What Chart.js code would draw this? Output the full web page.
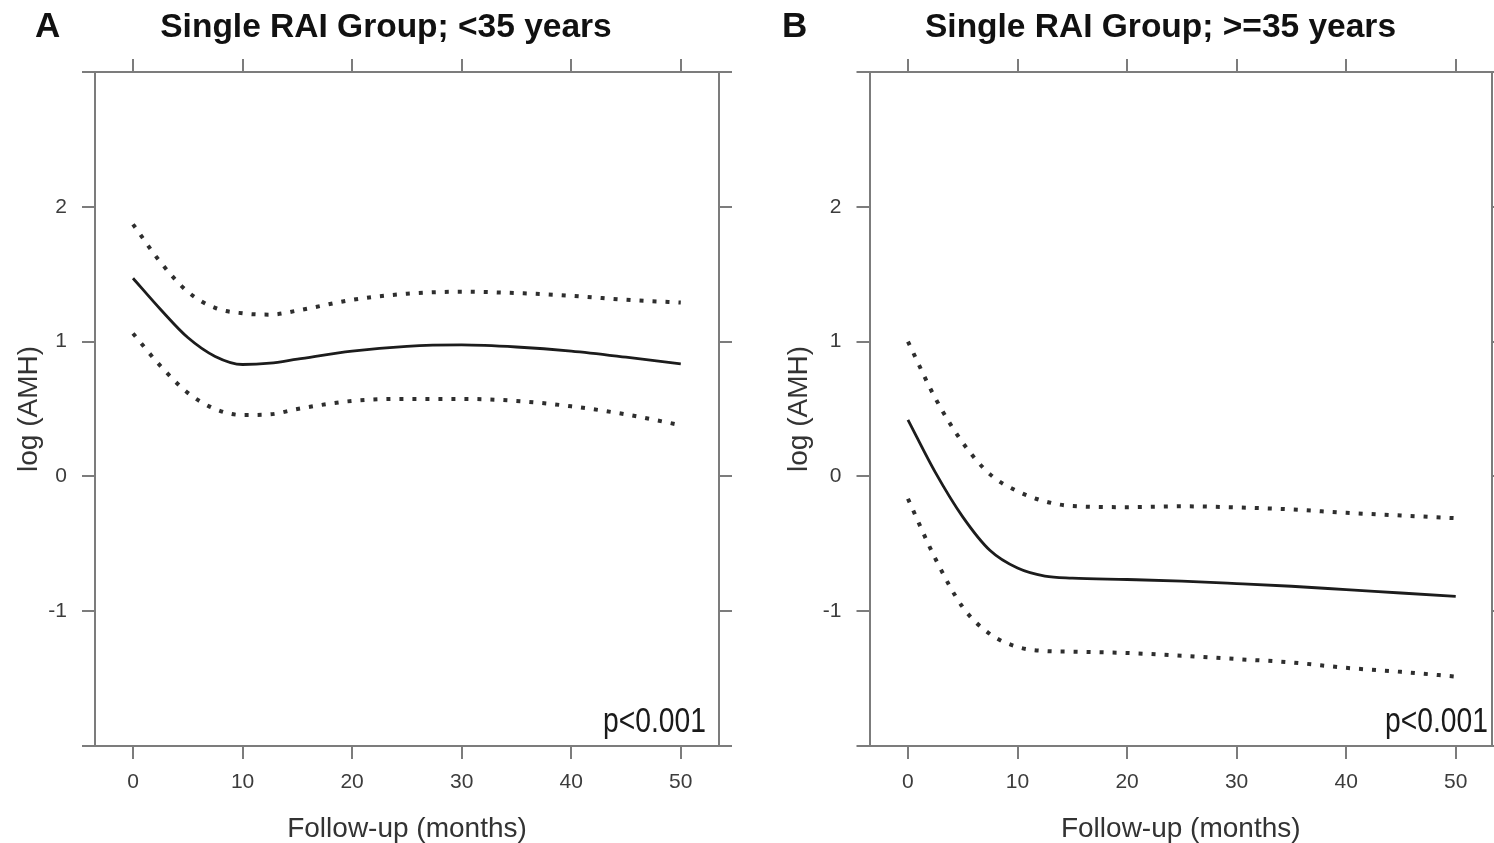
<!DOCTYPE html>
<html><head><meta charset="utf-8">
<script src="https://cdn.jsdelivr.net/npm/chart.js@4.4.1/dist/chart.umd.min.js"></script>
<style>
html,body{margin:0;padding:0;background:#fff;overflow:hidden;width:1494px;height:843px;}
#wrapA{position:absolute;left:0;top:0;width:747px;height:843px;}
#wrapB{position:absolute;left:747px;top:0;width:773px;height:843px;}
canvas{display:block;}
</style></head><body>
<div id="wrapA"><canvas id="chartA" width="747" height="843" style="width:747px;height:843px"></canvas></div>
<div id="wrapB"><canvas id="chartB" width="773" height="843" style="width:773px;height:843px"></canvas></div>
<script>
// ---- data ----
const months = [0, 2.5, 5, 7.5, 10, 12.5, 15, 20, 25, 30, 35, 40, 45, 50];
const xTicks = [0, 10, 20, 30, 40, 50];
const yTicks = [-1, 0, 1, 2];
const xTitle = 'Follow-up (months)';
const yTitle = 'log (AMH)';
const titleA = 'Single RAI Group; <35 years';
const titleB = 'Single RAI Group; >=35 years';
const pText = 'p<0.001';

const fitA   = [1.47, 1.24, 1.03, 0.89, 0.83, 0.84, 0.87, 0.93, 0.965, 0.975, 0.96, 0.93, 0.885, 0.835];
const upperA = [1.87, 1.59, 1.37, 1.25, 1.21, 1.20, 1.23, 1.31, 1.355, 1.37, 1.36, 1.34, 1.31, 1.29];
const lowerA = [1.06, 0.82, 0.62, 0.50, 0.455, 0.46, 0.50, 0.56, 0.575, 0.575, 0.56, 0.52, 0.46, 0.38];

const fitB   = [0.42, 0.03, -0.30, -0.55, -0.68, -0.74, -0.755, -0.765, -0.777, -0.795, -0.815, -0.84, -0.865, -0.89];
const upperB = [1.00, 0.58, 0.25, 0.015, -0.11, -0.185, -0.22, -0.228, -0.222, -0.23, -0.245, -0.27, -0.29, -0.31];
const lowerB = [-0.166, -0.61, -0.97, -1.17, -1.265, -1.295, -1.30, -1.31, -1.33, -1.355, -1.38, -1.42, -1.45, -1.485];

// ---- styling ----
const AXIS = '#7c7c7c';
const FONT = '"Liberation Sans", Arial, Helvetica, sans-serif';
Chart.defaults.font.family = FONT;

function ds(label, vals, dashed) {
  return {
    label,
    data: months.map((m, i) => ({x: m, y: vals[i]})),
    borderColor: dashed ? '#2e2e2e' : '#1c1c1c',
    borderWidth: dashed ? 4 : 2.8,
    borderDash: dashed ? [4, 9] : [],
    borderCapStyle: 'butt',
    pointRadius: 0,
    cubicInterpolationMode: 'monotone',
    fill: false
  };
}
const fixTicks = vals => scale => { scale.ticks = vals.map(v => ({value: v})); };

const decor = {
  id: 'panelDecor',
  afterDraw(chart, args, o) {
    const {ctx, chartArea: ca} = chart;
    ctx.save();
    ctx.strokeStyle = AXIS; ctx.lineWidth = 2;
    ctx.beginPath();
    for (const y of [ca.top, ca.bottom]) { ctx.moveTo(ca.left - 13, y); ctx.lineTo(ca.right + 13, y); }
    ctx.stroke();
    ctx.fillStyle = '#111';
    ctx.textBaseline = 'alphabetic';
    ctx.textAlign = 'left';
    ctx.font = 'bold 35px ' + FONT;
    ctx.fillText(o.letter, o.letterX, 37);
    ctx.textAlign = 'center';
    ctx.font = 'bold 33.5px ' + FONT;
    ctx.fillText(o.title, o.titleX, 37);
    ctx.font = '35px ' + FONT;
    const w = ctx.measureText(pText).width;
    ctx.translate(ca.right - o.pInset, 732);
    ctx.scale(o.pWidth / w, 1);
    ctx.textAlign = 'right';
    ctx.fillStyle = '#1a1a1a';
    ctx.fillText(pText, 0, 0);
    ctx.restore();
  }
};

function makeChart(id, p) {
  const grid = {drawOnChartArea: false, drawTicks: true, tickLength: 13, color: AXIS, lineWidth: 2};
  const border = {display: true, color: AXIS, width: 2};
  return new Chart(document.getElementById(id), {
    type: 'line',
    data: {datasets: [
      ds('Upper 95% CI', p.upper, true),
      ds('Estimate', p.fit, false),
      ds('Lower 95% CI', p.lower, true)
    ]},
    options: {
      responsive: false, animation: false, devicePixelRatio: 1,
      layout: {padding: 0},
      plugins: {
        legend: {display: false}, tooltip: {enabled: false}, title: {display: false},
        panelDecor: {letter: p.letter, letterX: 35, title: p.title, titleX: p.titleX, pInset: p.pInset, pWidth: 103}
      },
      scales: {
        x: {type: 'linear', position: 'bottom', min: p.xMin, max: p.xMax,
            afterBuildTicks: fixTicks(xTicks), afterFit: s => { s.height = 97; },
            grid, border,
            ticks: {color: '#3c3c3c', font: {size: 21}, padding: 11, maxRotation: 0, autoSkip: false},
            title: {display: true, text: xTitle, color: '#333', font: {size: 28, lineHeight: 1}, padding: {top: 0, bottom: 0}}},
        x2: {type: 'linear', position: 'top', min: p.xMin, max: p.xMax,
            afterBuildTicks: fixTicks(xTicks), afterFit: s => { s.height = 72; },
            grid, border, ticks: {display: false}},
        y: {type: 'linear', position: 'left', min: -2, max: 3,
            afterBuildTicks: fixTicks(yTicks), afterFit: s => { s.width = p.yWidth; },
            grid, border,
            ticks: {color: '#3c3c3c', font: {size: 21}, padding: 15},
            title: {display: true, text: yTitle, color: '#333', font: {size: 28, lineHeight: 1}, padding: {top: p.yTitlePad, bottom: 0}}},
        y2: {type: 'linear', position: 'right', min: -2, max: 3,
            afterBuildTicks: fixTicks(yTicks), afterFit: s => { s.width = 28; },
            grid, border, ticks: {display: false}}
      }
    },
    plugins: [decor]
  });
}

makeChart('chartA', {fit: fitA, upper: upperA, lower: lowerA, xMin: -3.47, xMax: 53.49,
  yWidth: 95, yTitlePad: 15.5, letter: 'A', title: titleA, titleX: 386, pInset: 13});
makeChart('chartB', {fit: fitB, upper: upperB, lower: lowerB, xMin: -3.51, xMax: 53.31,
  yWidth: 122.5, yTitlePad: 38.5, letter: 'B', title: titleB, titleX: 413.5, pInset: 4});
</script>
</body></html>
